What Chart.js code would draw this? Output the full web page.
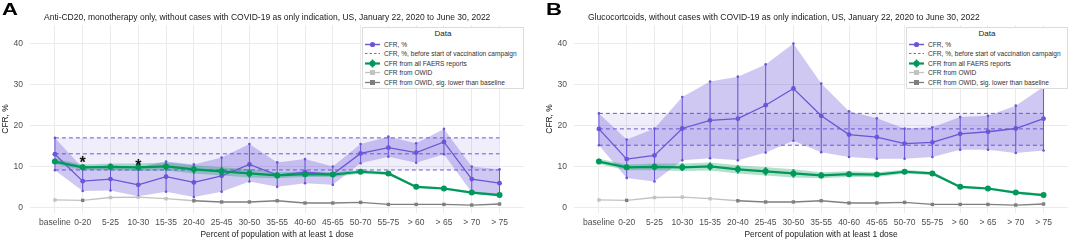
<!DOCTYPE html>
<html><head><meta charset="utf-8">
<script src="https://cdn.jsdelivr.net/npm/chart.js@4.4.1/dist/chart.umd.min.js"></script>
<style>
html,body{margin:0;padding:0;background:#fff;}
body{width:1072px;height:241px;position:relative;overflow:hidden;font-family:"Liberation Sans",Arial,Helvetica,sans-serif;}
.panel{position:absolute;top:0;width:528px;height:241px;}
.panel canvas{position:absolute;left:0;top:0;}
.letter{position:absolute;left:2px;top:-1px;font-weight:bold;font-size:17px;line-height:22px;color:#000;transform:scaleX(1.3);transform-origin:left top;}
.ptitle{position:absolute;left:44px;top:12px;font-size:8.5px;line-height:10px;color:#1a1a1a;white-space:nowrap;}
.legend{position:absolute;left:362px;top:27px;width:162px;height:62px;box-sizing:border-box;border:1px solid #dcdcdc;background:#fff;}
.legend .lt{position:absolute;left:0;right:0;top:1px;text-align:center;font-size:8px;line-height:10px;color:#222;}
.legend .row{position:absolute;left:2px;height:9px;}
.legend .row svg{position:absolute;left:0;top:0;}
.legend .row span{position:absolute;left:19px;top:0;font-size:6.6px;line-height:9px;color:#333;white-space:nowrap;}
</style>
</head><body>
<div class="panel" id="pA" style="left:0px">
  <canvas id="cA" width="528" height="241" style="width:528px;height:241px"></canvas>
  <div class="letter">A</div>
  <div class="ptitle">Anti-CD20, monotherapy only, without cases with COVID-19 as only indication, US, January 22, 2020 to June 30, 2022</div>
  <div class="legend" id="lA"></div>
</div>
<div class="panel" id="pB" style="left:544px">
  <canvas id="cB" width="528" height="241" style="width:528px;height:241px"></canvas>
  <div class="letter">B</div>
  <div class="ptitle">Glucocortcoids, without cases with COVID-19 as only indication, US, January 22, 2020 to June 30, 2022</div>
  <div class="legend" id="lB"></div>
</div>
<script>
// ---------- data ----------
const categories = ['baseline','0-20','5-25','10-30','15-35','20-40','25-45','30-50','35-55','40-60','45-65','50-70','55-75','> 60','> 65','> 70','> 75'];
const yTicks = [0, 10, 20, 30, 40];

// Panel A: Anti-CD20
const cfrA     = [13.0, 6.4, 6.9, 5.5, 7.5, 6.1, 7.7, 10.5, 7.9, 8.6, 8.1, 13.2, 14.6, 13.4, 16.0, 6.9, 5.9];
const cfrLowA  = [9.1, 4.0, 4.1, 2.7, 3.8, 2.5, 3.8, 6.3, 5.0, 5.9, 5.5, 10.8, 12.4, 10.9, 13.0, 3.6, 2.8];
const cfrHighA = [17.0, 9.6, 10.3, 9.8, 11.2, 10.5, 12.2, 15.5, 11.0, 11.8, 10.0, 15.5, 17.3, 15.7, 19.2, 10.0, 9.3];
const baselineA = [9.14, 13.1, 17.0];   // lower, estimate, upper (before vaccination)
const asteriskA = [null, 11.8, null, 11.0, null, null, null, null, null, null, null, null, null, null, null, null, null];

// Panel B: Glucocorticoids
const cfrB     = [19.2, 11.8, 12.7, 19.3, 21.3, 21.7, 25.0, 29.1, 22.4, 17.8, 17.2, 15.6, 15.9, 18.0, 18.5, 19.3, 21.7];
const cfrLowB  = [15.2, 7.2, 6.3, 11.5, 12.0, 11.5, 13.4, 16.3, 13.5, 12.3, 11.9, 11.9, 12.3, 14.1, 14.1, 13.3, 13.9];
const cfrHighB = [23.0, 16.6, 19.3, 27.0, 30.8, 32.0, 35.0, 40.1, 30.3, 23.5, 21.8, 19.3, 19.6, 22.1, 22.4, 24.9, 29.5];
const baselineB = [15.2, 19.2, 23.0];

// Shared: FAERS and OWID
const faers     = [11.2, 9.8, 9.9, 9.8, 10.0, 9.3, 8.8, 8.3, 7.8, 8.1, 8.0, 8.7, 8.3, 5.0, 4.6, 3.6, 3.0];
const faersLow  = [10.6, 9.1, 9.1, 8.9, 9.0, 8.3, 7.8, 7.3, 7.1, 7.4, 7.4, 8.2, 7.9, 4.7, 4.3, 3.3, 2.7];
const faersHigh = [11.9, 10.5, 10.7, 10.7, 11.0, 10.3, 9.8, 9.3, 8.6, 8.8, 8.6, 9.2, 8.7, 5.3, 4.9, 3.9, 3.3];
const owid      = [1.8, 1.7, 2.4, 2.5, 2.1, 1.6, 1.3, 1.3, 1.6, 1.05, 1.05, 1.2, 0.7, 0.7, 0.7, 0.55, 0.8];
const owidSig   = [false, true, false, false, false, true, true, true, true, true, true, true, true, true, true, true, true];

const legendLabels = ['CFR, %', 'CFR, %, before start of vaccination campaign', 'CFR from all FAERS reports', 'CFR from OWID', 'CFR from OWID, sig. lower than baseline'];

// ---------- styles ----------
const PURPLE = '#6B55D8';
const PURPLE_RIB = 'rgba(107,85,216,0.32)';
const PURPLE_BAND = 'rgba(107,85,216,0.10)';
const GREEN = '#00995A';
const GREEN_RIB = 'rgba(0,153,90,0.30)';
const GREY_L = '#C2C2C2';
const GREY_D = '#7F7F7F';
const FONT = '"Liberation Sans", Arial, Helvetica, sans-serif';

const xy = arr => arr.map((v, i) => ({x: i, y: v}));
const flat = v => [{x: 0, y: v}, {x: categories.length - 1, y: v}];

// error bars drawn from dataset.errLo / errHi through the chart scales, just before the dataset itself
const errorBarPlugin = {
  id: 'errorBars',
  beforeDatasetDraw(chart, args) {
    const ds = chart.data.datasets[args.index];
    if (!ds.errLo) return;
    const {ctx} = chart;
    const xs = chart.scales.x, ys = chart.scales.y;
    ctx.save();
    ctx.strokeStyle = ds.errColor;
    ctx.lineWidth = ds.errWidth;
    ctx.beginPath();
    ds.errLo.forEach((lo, i) => {
      const px = xs.getPixelForValue(i);
      ctx.moveTo(px, ys.getPixelForValue(lo));
      ctx.lineTo(px, ys.getPixelForValue(ds.errHi[i]));
    });
    ctx.stroke();
    ctx.restore();
  }
};

const asteriskPlugin = {
  id: 'asterisks',
  afterDatasetsDraw(chart, args, opts) {
    const vals = opts.values;
    if (!vals) return;
    const {ctx} = chart;
    const xs = chart.scales.x, ys = chart.scales.y;
    ctx.save();
    ctx.font = 'bold 16px ' + FONT;
    ctx.fillStyle = '#111';
    ctx.textAlign = 'center';
    ctx.textBaseline = 'alphabetic';
    vals.forEach((v, i) => {
      if (v == null) return;
      ctx.fillText('*', xs.getPixelForValue(i), ys.getPixelForValue(v) + 0.56 * 16);
    });
    ctx.restore();
  }
};

function makeChart(id, cfr, lo, hi, base, asterisks) {
  const datasets = [
    // baseline band (before vaccination)
    {data: flat(base[2]), borderColor: PURPLE, borderWidth: 1, borderDash: [4, 3], backgroundColor: PURPLE_BAND, fill: '+1', pointRadius: 0, order: 20},
    {data: flat(base[0]), borderColor: PURPLE, borderWidth: 1, borderDash: [4, 3], fill: false, pointRadius: 0, order: 20},
    {data: flat(base[1]), borderColor: PURPLE, borderWidth: 1, borderDash: [4, 3], fill: false, pointRadius: 0, order: 20},
    // CFR ribbon
    {data: xy(hi), borderWidth: 0, borderColor: 'rgba(0,0,0,0)', backgroundColor: PURPLE_RIB, fill: '+1', pointRadius: 1.3, pointBackgroundColor: PURPLE, pointBorderWidth: 0, order: 18},
    {data: xy(lo), borderWidth: 0, borderColor: 'rgba(0,0,0,0)', fill: false, pointRadius: 1.3, pointBackgroundColor: PURPLE, pointBorderWidth: 0, order: 18},
    // FAERS ribbon
    {data: xy(faersHigh), borderWidth: 0, borderColor: 'rgba(0,0,0,0)', backgroundColor: GREEN_RIB, fill: '+1', pointRadius: 0, order: 16},
    {data: xy(faersLow), borderWidth: 0, borderColor: 'rgba(0,0,0,0)', fill: false, pointRadius: 0, order: 16},
    // OWID
    {data: xy(owid), borderWidth: 1.3, borderColor: GREY_L,
      segment: {borderColor: c => (owidSig[c.p0DataIndex] && owidSig[c.p1DataIndex]) ? GREY_D : GREY_L},
      pointStyle: 'rect', pointRadius: 2.4, pointBorderWidth: 0,
      pointBackgroundColor: owidSig.map(s => s ? GREY_D : GREY_L), fill: false, order: 14},
    // CFR line with error bars
    {data: xy(cfr), borderColor: PURPLE, borderWidth: 1.3, pointRadius: 2.4, pointBackgroundColor: PURPLE, pointBorderWidth: 0, fill: false, order: 10,
      errLo: lo, errHi: hi, errColor: PURPLE, errWidth: 1},
    // FAERS line with error bars
    {data: xy(faers), borderColor: GREEN, borderWidth: 2.2, pointRadius: 3, pointBackgroundColor: GREEN, pointBorderWidth: 0, fill: false, order: 6,
      errLo: faersLow, errHi: faersHigh, errColor: GREEN, errWidth: 2}
  ];
  return new Chart(document.getElementById(id), {
    type: 'line',
    data: {datasets},
    plugins: [errorBarPlugin, asteriskPlugin],
    options: {
      animation: false, responsive: false, devicePixelRatio: 1,
      layout: {padding: {left: 0, right: 2, top: 25, bottom: 0}},
      elements: {line: {tension: 0}},
      plugins: {legend: {display: false}, tooltip: {enabled: false}, title: {display: false}, asterisks: {values: asterisks}},
      scales: {
        x: {
          type: 'linear', min: -0.896, max: 16.88,
          afterBuildTicks: s => { s.ticks = categories.map((c, i) => ({value: i})); },
          afterFit: s => { s.height = 28; },
          ticks: {callback: v => categories[v], autoSkip: false, maxRotation: 0, minRotation: 0, font: {family: FONT, size: 8.5}, color: '#4D4D4D', padding: 5},
          grid: {color: '#EBEBEB', lineWidth: 1, drawTicks: false},
          border: {display: false},
          title: {display: true, text: 'Percent of population with at least 1 dose', font: {family: FONT, size: 8.4}, color: '#222', padding: {top: 0, bottom: 1}}
        },
        y: {
          type: 'linear', min: -1.4, max: 44.65,
          afterBuildTicks: s => { s.ticks = yTicks.map(v => ({value: v})); },
          afterFit: s => { s.width = 30; },
          ticks: {font: {family: FONT, size: 8.5}, color: '#4D4D4D', padding: 7},
          grid: {color: '#EBEBEB', lineWidth: 1, drawTicks: false},
          border: {display: false},
          title: {display: true, text: 'CFR, %', font: {family: FONT, size: 8.4}, color: '#222', padding: {top: 1, bottom: 0}}
        }
      }
    }
  });
}

function symbol(k) {
  const w = 15, h = 9, m = 4.5;
  if (k === 0) return `<svg width="${w}" height="${h}"><line x1="0" y1="${m}" x2="${w}" y2="${m}" stroke="${PURPLE}" stroke-width="1.4"/><circle cx="7.5" cy="${m}" r="2.6" fill="${PURPLE}"/></svg>`;
  if (k === 1) return `<svg width="${w}" height="${h}"><line x1="0" y1="${m}" x2="${w}" y2="${m}" stroke="${PURPLE}" stroke-width="0.9" stroke-dasharray="2.5,2"/></svg>`;
  if (k === 2) return `<svg width="${w}" height="${h}"><line x1="0" y1="${m}" x2="${w}" y2="${m}" stroke="${GREEN}" stroke-width="2.2"/><line x1="7.5" y1="0.5" x2="7.5" y2="8.5" stroke="${GREEN}" stroke-width="1.8"/><circle cx="7.5" cy="${m}" r="3" fill="${GREEN}"/></svg>`;
  const c = k === 3 ? GREY_L : GREY_D;
  return `<svg width="${w}" height="${h}"><line x1="0" y1="${m}" x2="${w}" y2="${m}" stroke="${c}" stroke-width="1.3"/><rect x="5" y="2" width="5" height="5" fill="${c}"/></svg>`;
}
function buildLegend(id) {
  const el = document.getElementById(id);
  let html = '<div class="lt">Data</div>';
  legendLabels.forEach((t, i) => {
    html += `<div class="row" style="top:${11.5 + i * 9.6}px">${symbol(i)}<span>${t}</span></div>`;
  });
  el.innerHTML = html;
}

makeChart('cA', cfrA, cfrLowA, cfrHighA, baselineA, asteriskA);
makeChart('cB', cfrB, cfrLowB, cfrHighB, baselineB, null);
buildLegend('lA');
buildLegend('lB');
</script>
</body></html>
